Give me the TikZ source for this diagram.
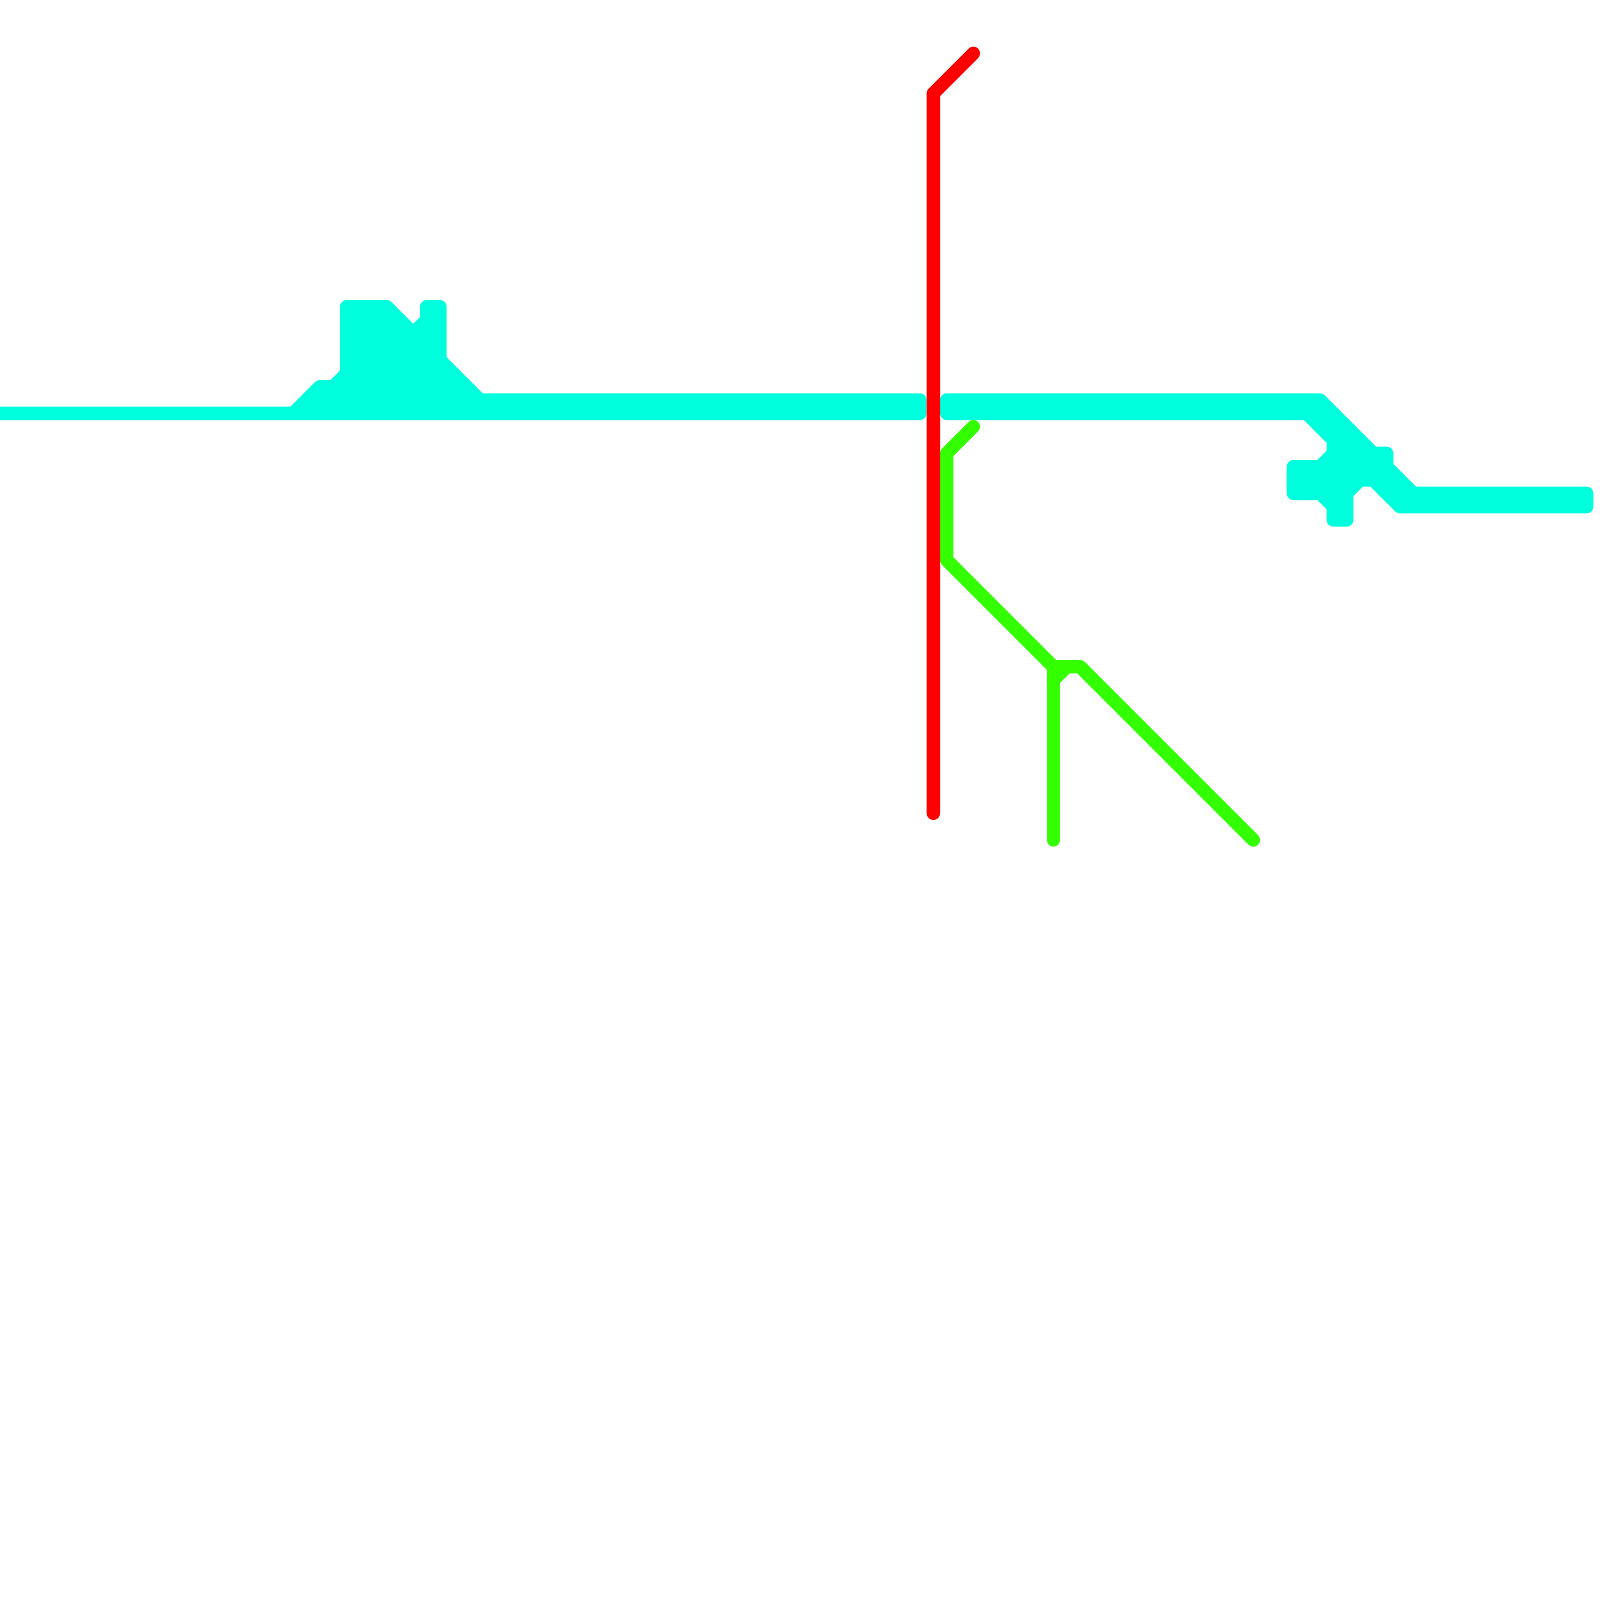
\documentclass[tikz,border=0pt]{standalone}
\definecolor{routeCyan}{RGB}{0,255,221}
\definecolor{routeGreen}{RGB}{51,255,0}
\definecolor{routeRed}{RGB}{255,0,0}
\tikzset{
  route/.style={line width=0.3cm, line cap=round, line join=round},
}

\begin{document}
\begin{tikzpicture}[x=0.3cm, y=-0.3cm]
    \useasboundingbox (0,0) rectangle (120,120);

    % Banda izquierda con el bloque superior
    \filldraw[route, routeCyan] (-1,31) -- (22,31) -- (24,29) -- (25,29) -- (26,28) -- (26,23) -- (29,23) -- (31,25) -- (32,24) -- (32,23) -- (33,23) -- (33,27) -- (36,30) -- (69,30) -- (69,31) -- cycle;

    % Banda derecha con el bloque de cruce
    \filldraw[route, routeCyan] (71,30) -- (99,30) -- (103,34) -- (104,34) -- (104,35) -- (106,37) -- (119,37) -- (119,38) -- (105,38) -- (103,36) -- (102,36) -- (101,37) -- (101,39) -- (100,39) -- (100,38) -- (99,37) -- (97,37) -- (97,35) -- (99,35) -- (100,34) -- (100,33) -- (98,31) -- (71,31) -- cycle;

    % Lineas verdes
    \draw[route, routeGreen] (73,32) -- (71,34) -- (71,42) -- (79,50) -- (81,50) -- (94,63);
    \draw[route, routeGreen] (79,63) -- (79,50);
    \draw[route, routeGreen] (79,51) -- (80,50);

    % Linea roja
    \draw[route, routeRed] (73,4) -- (70,7) -- (70,61);
\end{tikzpicture}
\end{document}
